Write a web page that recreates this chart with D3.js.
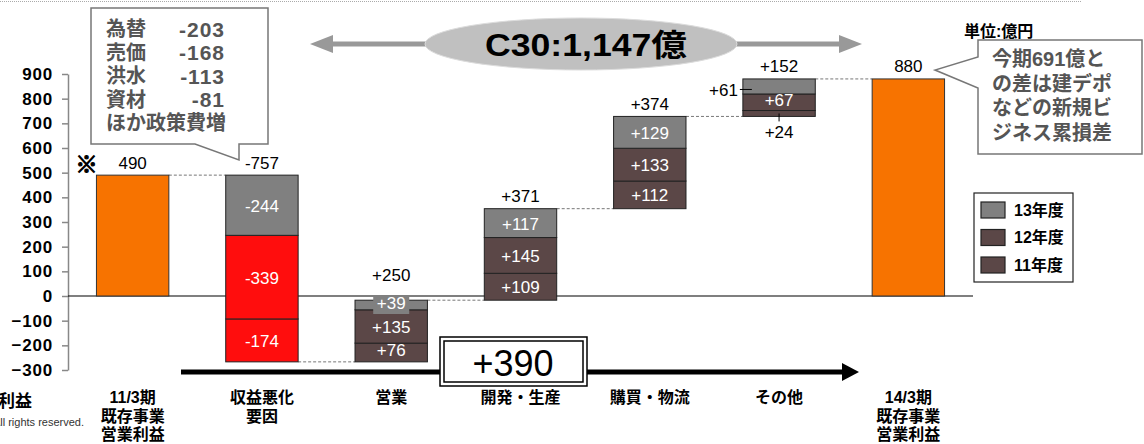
<!DOCTYPE html>
<html>
<head>
<meta charset="utf-8">
<script src="https://cdn.jsdelivr.net/npm/d3@7"></script>
<style>
  body { margin: 0; background: #fff; }
  svg { display: block; font-family: "Liberation Sans", "Noto Sans CJK JP", sans-serif; }
  .yaxis text { font-size: 17px; font-weight: bold; letter-spacing: 0.8px; }
</style>
</head>
<body>
<div id="chart"></div>
<script>
// categories along the x axis (multi-line labels)
var categories = [
    ["11/3期", "既存事業", "営業利益"],
    ["収益悪化", "要因"],
    ["営業"],
    ["開発・生産"],
    ["購買・物流"],
    ["その他"],
    ["14/3期", "既存事業", "営業利益"]
];
// start / end totals (null = step bar)
var totals = [490, null, null, null, null, null, 880];
// step contributions per fiscal year
var fy11 = [0, -174, 76, 109, 112, 24, 0];
var fy12 = [0, -339, 135, 145, 133, 67, 0];
var fy13 = [0, -244, 39, 117, 129, 61, 0];
var yTicks = [900, 800, 700, 600, 500, 400, 300, 200, 100, 0, -100, -200, -300];
var legendLabels = ["13年度", "12年度", "11年度"];
var noteItems = ["為替", "売価", "洪水", "資材", "ほか政策費増"];
var noteValues = ["-203", "-168", "-113", "-81", ""];
var rightNote = ["今期691億と", "の差は建デポ", "などの新規ビ", "ジネス累損差"];
var unitLabel = "単位:億円";

var W = 1144, H = 444;
var colOrange = "#f77300", colGray = "#808080", colDark = "#5b4747", colRed = "#ff0d0d";

var svg = d3.select("#chart").append("svg")
    .attr("width", W).attr("height", H);

var x = d3.scaleBand()
    .domain(d3.range(categories.length))
    .range([68, 973])
    .paddingInner(0.44)
    .paddingOuter(0.22);

var y = d3.scaleLinear()
    .domain([-300, 900])
    .range([370, 74]);

var fmt = function(v) { return (v > 0 ? "+" : "") + v; };

// top dotted rule
svg.append("line")
    .attr("x1", 0).attr("x2", 1082).attr("y1", 1.5).attr("y2", 1.5)
    .attr("stroke", "#aaa").attr("stroke-dasharray", "1,1");

// y axis
var yAxis = svg.append("g")
    .attr("class", "yaxis")
    .attr("transform", "translate(68,0)")
    .call(d3.axisLeft(y).tickValues(yTicks).tickSize(6).tickSizeOuter(0).tickPadding(9));
yAxis.attr("font-size", 17).attr("font-family", null);
yAxis.select(".domain").attr("stroke", "#888").attr("stroke-width", 1.5);
yAxis.selectAll(".tick line").attr("stroke", "#888").attr("stroke-width", 1.5);
yAxis.selectAll(".tick text").attr("fill", "#000").attr("font-size", 17).attr("font-weight", "bold");

// zero line
svg.append("line")
    .attr("x1", 68).attr("x2", 973).attr("y1", y(0)).attr("y2", y(0))
    .attr("stroke", "#000").attr("stroke-width", 1.2);

// build waterfall
var running = 0;
var bars = categories.map(function(c, i) {
    if (totals[i] !== null) {
        running = totals[i];
        return { i: i, total: totals[i], start: 0, end: totals[i], segs: [] };
    }
    var vals = [fy11[i], fy12[i], fy13[i]];
    var sum = d3.sum(vals);
    var start = running, end = running + sum;
    running = end;
    var base = Math.min(start, end);
    var segs = vals.map(function(v, k) {
        var s = { v: v, k: k, lo: base, hi: base + Math.abs(v) };
        base += Math.abs(v);
        return s;
    });
    return { i: i, total: null, sum: sum, start: start, end: end, segs: segs };
});

function segColor(b, s) {
    if (s.k === 2) return colGray;
    return b.sum < 0 ? colRed : colDark;
}

// dashed connectors
bars.forEach(function(b, i) {
    if (i === bars.length - 1) return;
    svg.append("line")
        .attr("x1", x(i) + x.bandwidth()).attr("x2", x(i + 1))
        .attr("y1", y(b.end)).attr("y2", y(b.end))
        .attr("stroke", "#777").attr("stroke-dasharray", "3,2");
});

// total bars
bars.filter(function(b) { return b.total !== null; }).forEach(function(b) {
    svg.append("rect")
        .attr("x", x(b.i)).attr("width", x.bandwidth())
        .attr("y", y(b.total)).attr("height", y(0) - y(b.total))
        .attr("fill", colOrange).attr("stroke", "#333").attr("stroke-width", 1);
    svg.append("text")
        .attr("x", x(b.i) + x.bandwidth() / 2).attr("y", y(b.total) - 12)
        .attr("text-anchor", "middle").attr("dominant-baseline", "central")
        .style("font-size", "17px").text(b.total);
});

// reference mark next to the first total
svg.append("text")
    .attr("x", x(0) - 10).attr("y", y(totals[0]) - 13)
    .attr("text-anchor", "middle").attr("dominant-baseline", "central")
    .attr("stroke", "#000").attr("stroke-width", 1.2)
    .style("font-family", "Noto Sans CJK JP")
    .style("font-size", "22px").style("font-weight", "bold").text("※");

// step bars
var lastStep = d3.max(bars.filter(function(b) { return b.total === null; }), function(b) { return b.i; });
bars.filter(function(b) { return b.total === null; }).forEach(function(b) {
    var x0 = x(b.i), bw = x.bandwidth(), cx = x0 + bw / 2;
    var boxed = false;
    b.segs.forEach(function(s) {
        svg.append("rect")
            .attr("x", x0).attr("width", bw)
            .attr("y", y(s.hi)).attr("height", y(s.lo) - y(s.hi))
            .attr("fill", segColor(b, s)).attr("stroke", "#222").attr("stroke-width", 1);
    });
    b.segs.forEach(function(s) {
        var top = y(s.hi), bot = y(s.lo), mid = (top + bot) / 2, h = bot - top;
        if (b.i === lastStep && s.k === 2) {
            // label pulled out to the left
            svg.append("line").attr("x1", x0 - 3).attr("x2", x0 + 9)
                .attr("y1", mid + 3).attr("y2", mid + 3).attr("stroke", "#000");
            svg.append("text").attr("x", x0 - 5).attr("y", mid + 4)
                .attr("text-anchor", "end").attr("dominant-baseline", "central")
                .style("font-size", "17px").text(fmt(s.v));
            return;
        }
        if (h < 8) {
            // label below the bar
            svg.append("line").attr("x1", cx).attr("x2", cx)
                .attr("y1", mid).attr("y2", y(b.segs[0].lo) + 5).attr("stroke", "#000");
            svg.append("text").attr("x", cx).attr("y", y(b.segs[0].lo) + 16)
                .attr("text-anchor", "middle").attr("dominant-baseline", "central")
                .style("font-size", "17px").text(fmt(s.v));
            return;
        }
        if (h < 14) {
            boxed = true;
            svg.append("rect").attr("x", cx - 18).attr("y", mid - 9)
                .attr("width", 36).attr("height", 18).attr("fill", segColor(b, s));
        }
        svg.append("text").attr("x", cx).attr("y", mid + (h < 20 ? -2 : 1))
            .attr("text-anchor", "middle").attr("dominant-baseline", "central")
            .attr("fill", "#fff").style("font-size", "17px").text(fmt(s.v));
    });
    var barTop = y(Math.max(b.start, b.end));
    svg.append("text")
        .attr("x", cx).attr("y", barTop - (boxed ? 25 : 12))
        .attr("text-anchor", "middle").attr("dominant-baseline", "central")
        .style("font-size", "17px").text(fmt(b.sum));
});

// category labels
categories.forEach(function(lines, i) {
    var t = svg.append("text")
        .attr("x", x(i) + x.bandwidth() / 2).attr("y", 403)
        .attr("text-anchor", "middle")
        .style("font-size", "16px").style("font-weight", "bold");
    lines.forEach(function(l, j) {
        t.append("tspan").attr("x", x(i) + x.bandwidth() / 2).attr("dy", j ? 18.5 : 0).text(l);
    });
});

// cut-off page remnants on the left
svg.append("text").attr("x", -2).attr("y", 407)
    .style("font-size", "17px").style("font-weight", "bold").text("利益");
svg.append("text").attr("x", 84).attr("y", 426).attr("text-anchor", "end")
    .style("font-size", "11px").attr("fill", "#333").text("All rights reserved.");

// double-headed gray arrow with ellipse (sum of improvements)
var gain = d3.sum(bars.filter(function(b) { return b.total === null && b.sum > 0; }), function(b) { return b.sum; });
var ay = 44;
svg.append("line").attr("x1", 325).attr("x2", 848).attr("y1", ay).attr("y2", ay)
    .attr("stroke", "#999").attr("stroke-width", 5);
svg.append("path").attr("d", "M310," + ay + " L333," + (ay - 9) + " L333," + (ay + 9) + " Z").attr("fill", "#999");
svg.append("path").attr("d", "M862," + ay + " L839," + (ay - 9) + " L839," + (ay + 9) + " Z").attr("fill", "#999");
svg.append("ellipse").attr("cx", 581).attr("cy", ay).attr("rx", 156).attr("ry", 26)
    .attr("fill", "#c0c0c0").attr("stroke", "#dcdcdc").attr("stroke-width", 1);
svg.append("text").attr("x", 586).attr("y", ay + 1)
    .attr("text-anchor", "middle").attr("dominant-baseline", "central")
    .attr("textLength", 202).attr("lengthAdjust", "spacingAndGlyphs")
    .style("font-size", "31px").style("font-weight", "bold")
    .text("C30:" + d3.format(",")(gain) + "億");

// black arrow with net box
var net = d3.sum(bars.filter(function(b) { return b.total === null; }), function(b) { return b.sum; });
var by = 372;
svg.append("line").attr("x1", 181).attr("x2", 845).attr("y1", by).attr("y2", by)
    .attr("stroke", "#000").attr("stroke-width", 5);
svg.append("path").attr("d", "M859," + by + " L842," + (by - 9) + " L842," + (by + 9) + " Z").attr("fill", "#000");
svg.append("rect").attr("x", 440).attr("y", 337).attr("width", 147).attr("height", 49)
    .attr("fill", "#fff").attr("stroke", "#000").attr("stroke-width", 1.5);
svg.append("rect").attr("x", 444).attr("y", 341).attr("width", 139).attr("height", 41)
    .attr("fill", "#fff").attr("stroke", "#000").attr("stroke-width", 1.5);
svg.append("text").attr("x", 513).attr("y", 363)
    .attr("text-anchor", "middle").attr("dominant-baseline", "central")
    .style("font-size", "36px").text(fmt(net));

// left callout (breakdown of deterioration)
svg.append("path")
    .attr("d", "M91,8 H268 V144 H239 V160 L195,144 H91 Z")
    .attr("fill", "#fff").attr("stroke", "#777").attr("stroke-width", 1.5);
noteItems.forEach(function(n, k) {
    var ty = 29 + k * 23.5;
    svg.append("text").attr("x", 106).attr("y", ty).attr("dominant-baseline", "central")
        .attr("fill", "#555").style("font-size", "20px").style("font-weight", "bold").text(n);
    if (noteValues[k]) {
        svg.append("text").attr("x", 225).attr("y", ty).attr("dominant-baseline", "central")
            .attr("text-anchor", "end").attr("fill", "#555")
            .style("font-size", "21px").style("font-weight", "bold")
            .style("letter-spacing", "1px").text(noteValues[k]);
    }
});

// unit
svg.append("text").attr("x", 964).attr("y", 31).attr("dominant-baseline", "central")
    .style("font-size", "16px").style("font-weight", "bold").text(unitLabel);

// right callout
svg.append("path")
    .attr("d", "M978,40 H1142 V154 H978 V88 L935,70 L978,57 Z")
    .attr("fill", "#fff").attr("stroke", "#777").attr("stroke-width", 1.5);
rightNote.forEach(function(l, k) {
    svg.append("text").attr("x", 992).attr("y", 59 + k * 24.5).attr("dominant-baseline", "central")
        .attr("fill", "#555").style("font-size", "20px").style("font-weight", "bold").text(l);
});

// legend
var lg = svg.append("g");
lg.append("rect").attr("x", 974).attr("y", 193).attr("width", 99).attr("height", 89)
    .attr("fill", "#fff").attr("stroke", "#222").attr("stroke-width", 1.2);
var legendColors = [colGray, colDark, colDark];
legendLabels.forEach(function(l, k) {
    var ly = 210 + k * 27.5;
    lg.append("rect").attr("x", 981).attr("y", ly - 8).attr("width", 24).attr("height", 16)
        .attr("fill", legendColors[k]).attr("stroke", "#222").attr("stroke-width", 1.2);
    lg.append("text").attr("x", 1014).attr("y", ly).attr("dominant-baseline", "central")
        .style("font-size", "16px").style("font-weight", "bold").text(l);
});
</script>
</body>
</html>
